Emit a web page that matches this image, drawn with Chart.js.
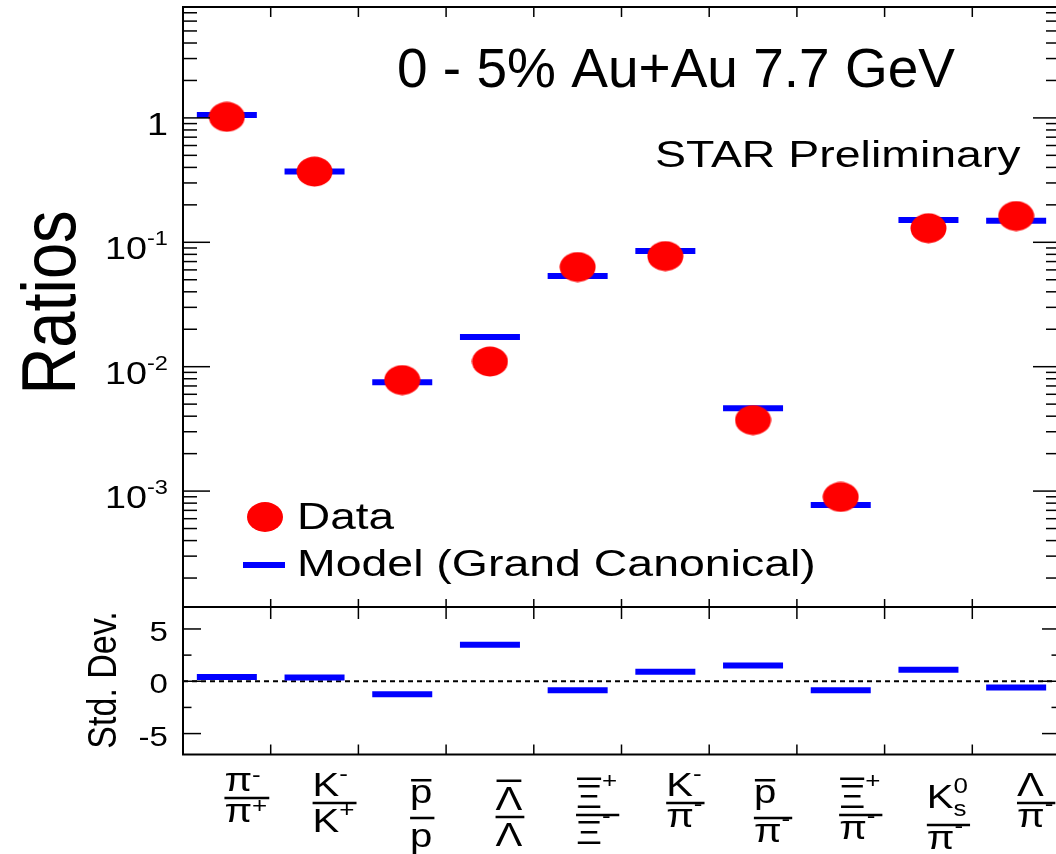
<!DOCTYPE html>
<html><head><meta charset="utf-8">
<script src="https://cdn.jsdelivr.net/npm/chart.js@4/dist/chart.umd.min.js"></script>
<style>
html,body{margin:0;padding:0;overflow:hidden;background:#fff;width:1056px;height:854px}
#c1{position:absolute;left:0;top:0}
#c2{position:absolute;left:0;top:590px}
</style></head>
<body>
<canvas id="c1" width="1070" height="612"></canvas>
<canvas id="c2" width="1070" height="264"></canvas>
<script>
// ---- data ----
const categories = ['π-/π+','K-/K+','p̄/p','Λ̄/Λ','Ξ̄+/Ξ-','K-/π-','p̄/π-','Ξ̄+/π-','K0s/π-','Λ/π-'];
const dataRatios  = [1.02, 0.37, 0.0078, 0.0110, 0.0633, 0.0775, 0.00372, 0.000897, 0.1297, 0.1626];
const modelRatios = [1.055, 0.37, 0.0075, 0.0173, 0.0536, 0.0851, 0.00463, 0.000774, 0.151, 0.149];
const stdDev      = [0.4, 0.35, -1.25, 3.5, -0.85, 0.9, 1.5, -0.85, 1.1, -0.6];

const yTickValues = [1, 0.1, 0.01, 0.001];
const yTickBase   = ['1', '10', '10', '10'];
const yTickExp    = ['', '-1', '-2', '-3'];
const devTickValues = [5, 0, -5];
const devTickLabels = ['5', '0', '-5'];

// x tick labels (fractions)
const numBase = ['π','K','p','Λ','Ξ','K','p','Ξ','K','Λ'];
const numSup  = ['-','-','','','+','-','','+','0',''];
const numSub  = ['','','','','','','','','s',''];
const numOver = [false,false,true,true,true,false,true,true,false,false];
const denBase = ['π','K','p','Λ','Ξ','π','π','π','π','π'];
const denSup  = ['+','+','','','-','-','-','-','-','-'];

const titleText = '0 - 5% Au+Au 7.7 GeV';
const starText = 'STAR Preliminary';
const yTitle = 'Ratios';
const devTitle = 'Std. Dev.';

// ---- styles ----
const RED = '#ff0000', BLUE = '#0000ff', INK = '#000';
const FONT = '"Liberation Sans", Arial, sans-serif';
const SX = 1.18;
const fracBarOffset = [43.5, 48.5, 63.5, 62.5, 60.5, 48.5, 63.5, 60.5, 70.5, 48.5];

function drawText(ctx, s, x, y, size, sx, align) {
  ctx.save();
  ctx.font = size + 'px ' + FONT;
  const w = ctx.measureText(s).width * sx;
  let x0 = align === 'right' ? x - w : (align === 'center' ? x - w / 2 : x);
  ctx.translate(x0, y);
  ctx.scale(sx, 1);
  ctx.textAlign = 'left';
  ctx.textBaseline = 'alphabetic';
  ctx.fillStyle = INK;
  ctx.fillText(s, 0, 0);
  ctx.restore();
  return w;
}
function textW(ctx, s, size, sx) {
  ctx.save(); ctx.font = size + 'px ' + FONT;
  const w = ctx.measureText(s).width * sx; ctx.restore(); return w;
}
function rotText(ctx, s, x, y, size, sy) {
  ctx.save();
  ctx.translate(x, y);
  ctx.rotate(-Math.PI / 2);
  ctx.scale(1, sy);
  ctx.font = size + 'px ' + FONT;
  ctx.textAlign = 'center';
  ctx.textBaseline = 'alphabetic';
  ctx.fillStyle = INK;
  ctx.fillText(s, 0, 0);
  ctx.restore();
}
function line(ctx, x1, y1, x2, y2) {
  ctx.beginPath(); ctx.moveTo(x1, y1); ctx.lineTo(x2, y2); ctx.stroke();
}

// red ellipse marker
const ell = document.createElement('canvas');
ell.width = 37; ell.height = 31;
(function(){ const c = ell.getContext('2d'); c.fillStyle = RED; c.beginPath();
  c.ellipse(18.5, 15.5, 18, 15, 0, 0, Math.PI * 2); c.fill(); })();

const topPlugin = {
  id: 'topDeco',
  afterDraw(chart) {
    const { ctx, chartArea: a, scales: { y } } = chart;
    ctx.save();
    ctx.strokeStyle = INK;
    ctx.lineWidth = 2;
    ctx.strokeRect(a.left, a.top, a.right - a.left, a.bottom - a.top);
    ctx.lineWidth = 1.5;
    for (let n = -4; n <= 0; n++) {
      for (let k = 1; k <= 9; k++) {
        const v = k * Math.pow(10, n);
        if (v < y.min || v > y.max) continue;
        const py = y.getPixelForValue(v);
        const len = k === 1 ? 27 : 14;
        line(ctx, a.left, py, a.left + len, py);
        line(ctx, a.right, py, a.right - len, py);
      }
    }
    const cw = (a.right - a.left) / categories.length;
    for (let i = 1; i < categories.length; i++) {
      const bx = a.left + i * cw;
      line(ctx, bx, a.top, bx, a.top + 10);
      line(ctx, bx, a.bottom, bx, a.bottom - 8);
    }
    yTickValues.forEach((v, i) => {
      const py = y.getPixelForValue(v);
      const b = py + 17;
      const rx = a.left - 15;
      if (yTickExp[i]) {
        const we = drawText(ctx, yTickExp[i], rx, b - 14, 20, SX, 'right');
        drawText(ctx, yTickBase[i], rx - we, b, 32, SX, 'right');
      } else {
        drawText(ctx, yTickBase[i], rx, b, 32, SX, 'right');
      }
    });
    rotText(ctx, yTitle, 75, 302.5, 65, 1.18);
    drawText(ctx, titleText, 397, 87, 55, 1.0, 'left');
    drawText(ctx, starText, 655, 167, 36, 1.29, 'left');
    const ds = chart.data.datasets;
    ctx.fillStyle = ds[0].backgroundColor;
    ctx.beginPath(); ctx.ellipse(265, 517, 18, 15, 0, 0, Math.PI * 2); ctx.fill();
    drawText(ctx, ds[0].label, 297, 529, 37, 1.24, 'left');
    ctx.strokeStyle = ds[1].pointBorderColor;
    ctx.lineWidth = 6;
    line(ctx, 243, 565, 285, 565);
    drawText(ctx, ds[1].label, 297, 576, 37, 1.255, 'left');
    ctx.restore();
  }
};

function drawTerm(ctx, x, b, base, sup, sub, over, barY) {
  const S = 34, s = 22;
  const wb = drawText(ctx, base, x, b, S, SX, 'left');
  const lower = (base === 'π' || base === 'p');
  const top = b - (lower ? 0.53 : 0.72) * S;
  if (over) { ctx.fillStyle = INK; ctx.fillRect(x + 1, top - 6, wb - 2, 2.5); }
  if (sup) {
    let sb = (over ? top - 5 : top) + 9;
    if (barY !== undefined && sup === '-') sb = barY + 8;
    drawText(ctx, sup, x + wb, sb, s, SX, 'left');
  }
  if (sub) drawText(ctx, sub, x + wb, b + 8, s, SX, 'left');
}
function termWidth(ctx, base, sup, sub) {
  const wb = textW(ctx, base, 34, SX);
  const ws = Math.max(sup ? textW(ctx, sup, 22, SX) : 0, sub ? textW(ctx, sub, 22, SX) : 0);
  return wb + ws;
}

const botPlugin = {
  id: 'botDeco',
  beforeDatasetsDraw(chart) {
    const { ctx, chartArea: a, scales: { y } } = chart;
    const y0 = y.getPixelForValue(0);
    ctx.save();
    ctx.strokeStyle = INK; ctx.lineWidth = 2; ctx.setLineDash([5, 4]);
    line(ctx, a.left, y0, a.right, y0);
    ctx.restore();
  },
  afterDraw(chart) {
    const { ctx, chartArea: a, scales: { x, y } } = chart;
    ctx.save();
    ctx.strokeStyle = INK;
    ctx.lineWidth = 2;
    ctx.strokeRect(a.left, a.top, a.right - a.left, a.bottom - a.top);
    ctx.lineWidth = 1.5;
    [-5, -2.5, 0, 2.5, 5].forEach(v => {
      const py = y.getPixelForValue(v);
      const len = (v % 5 === 0) ? 18 : 8.5;
      line(ctx, a.left, py, a.left + len, py);
      line(ctx, a.right, py, a.right - len, py);
    });
    const cw = (a.right - a.left) / categories.length;
    for (let i = 1; i < categories.length; i++) {
      const bx = a.left + i * cw;
      line(ctx, bx, a.top, bx, a.top + 12);
      line(ctx, bx, a.bottom, bx, a.bottom - 10);
    }
    devTickValues.forEach((v, i) => {
      const py = y.getPixelForValue(v);
      drawText(ctx, devTickLabels[i], a.left - 15, py + 12, 28, SX, 'right');
    });
    rotText(ctx, devTitle, 116, 90, 34, 1.18);
    for (let i = 0; i < categories.length; i++) {
      const cx = x.getPixelForValue(i) + 20;
      const barY = a.bottom + fracBarOffset[i];
      const wN = termWidth(ctx, numBase[i], numSup[i], numSub[i]);
      const wD = termWidth(ctx, denBase[i], denSup[i], '');
      const W = Math.max(wN, wD) + 2;
      const left = cx - W / 2;
      ctx.fillStyle = INK;
      ctx.fillRect(left, barY - 1.25, W, 2.5);
      const nb = barY - 7 - (numBase[i] === 'p' ? 8 : 0) - (numSub[i] ? 10 : 0);
      drawTerm(ctx, left, nb, numBase[i], numSup[i], numSub[i], numOver[i]);
      const db = barY + (denBase[i] === 'π' ? 24 : 29);
      drawTerm(ctx, left, db, denBase[i], denSup[i], '', false, barY);
    }
    ctx.restore();
  }
};

new Chart(document.getElementById('c1'), {
  type: 'line',
  data: {
    labels: categories,
    datasets: [
      { label: 'Data', data: dataRatios, showLine: false, pointStyle: ell, pointRadius: 18,
        backgroundColor: RED, borderColor: RED },
      { label: 'Model (Grand Canonical)', data: modelRatios, showLine: false, pointStyle: 'line',
        pointRadius: 30, pointBorderWidth: 6, borderColor: BLUE, pointBorderColor: BLUE }
    ]
  },
  options: {
    responsive: false, animation: false, events: [],
    layout: { autoPadding: false, padding: { left: 183, top: 7, right: 10, bottom: 5 } },
    plugins: { legend: { display: false }, tooltip: { enabled: false } },
    scales: {
      x: { display: false, offset: true },
      y: { type: 'logarithmic', display: false, min: 1.17e-4, max: 7.79, bounds: 'data' }
    }
  },
  plugins: [topPlugin]
});

new Chart(document.getElementById('c2'), {
  type: 'line',
  data: {
    labels: categories,
    datasets: [
      { label: 'Std. Dev.', data: stdDev, showLine: false, pointStyle: 'line',
        pointRadius: 30, pointBorderWidth: 6, borderColor: BLUE, pointBorderColor: BLUE }
    ]
  },
  options: {
    responsive: false, animation: false, events: [],
    layout: { autoPadding: false, padding: { left: 183, top: 17, right: 10, bottom: 99.5 } },
    plugins: { legend: { display: false }, tooltip: { enabled: false } },
    scales: {
      x: { display: false, offset: true },
      y: { type: 'linear', display: false, min: -7, max: 7.1, bounds: 'data' }
    }
  },
  plugins: [botPlugin]
});
</script>
</body></html>
